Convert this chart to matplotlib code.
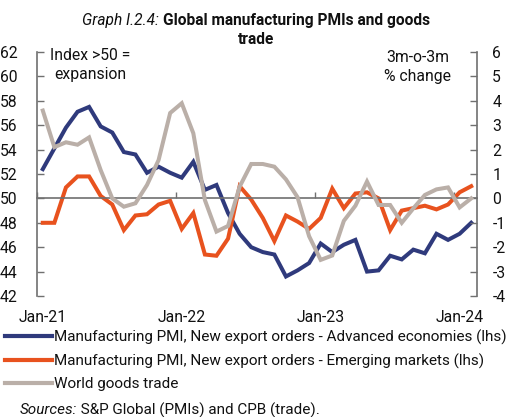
import matplotlib
matplotlib.use('Agg')
import matplotlib.pyplot as plt
import matplotlib.transforms as mtransforms
from matplotlib.lines import Line2D
import numpy as np

plt.rcParams['font.family'] = ['Roboto', 'DejaVu Sans']
plt.rcParams['axes.unicode_minus'] = False

# ---- data (Jan-21 .. Feb-24, monthly) ----
months = [f"{m}-{y}" for y in (21, 22, 23, 24) for m in
          ("Jan", "Feb", "Mar", "Apr", "May", "Jun", "Jul", "Aug", "Sep", "Oct", "Nov", "Dec")][:38]
adv = [52.4, 54.1, 55.8, 57.1, 57.5, 55.9, 55.4, 53.8, 53.6, 52.1,
       52.6, 52.1, 51.7, 53.0, 50.7, 51.1, 48.8, 47.1, 46.0, 45.6,
       45.4, 43.6, 44.1, 44.7, 46.3, 45.6, 46.2, 46.6, 44.0, 44.1,
       45.3, 45.0, 45.8, 45.5, 47.1, 46.6, 47.1, 48.0]
emg = [48.0, 48.0, 50.9, 51.8, 51.8, 50.2, 49.5, 47.4, 48.6, 48.7,
       49.5, 49.8, 47.5, 48.8, 45.4, 45.3, 46.7, 51.0, 49.9, 48.4,
       46.5, 48.6, 48.1, 47.5, 48.4, 50.8, 49.2, 50.4, 50.5, 50.0,
       47.4, 49.0, 49.2, 49.4, 49.1, 49.5, 50.5, 51.0]
trade = [3.6, 2.1, 2.3, 2.2, 2.5, 1.16, 0.0, -0.34, -0.2, 0.55,
         1.57, 3.5, 3.9, 2.67, -0.07, -1.36, -1.13, 0.48, 1.41, 1.41,
         1.3, 0.78, 0.05, -1.55, -2.52, -2.34, -0.92, -0.3, 0.69, -0.27,
         -0.27, -1.0, -0.41, 0.14, 0.37, 0.45, -0.37, 0.0]
xlabels = ["Jan-21", "Jan-22", "Jan-23", "Jan-24"]
left_ticks = list(range(42, 63, 2))
right_ticks = list(range(-4, 7))
names = ["Manufacturing PMI, New export orders - Advanced economies (lhs)",
         "Manufacturing PMI, New export orders - Emerging markets (lhs)",
         "World goods trade"]

BLUE = "#2F3A7C"
ORANGE = "#E8521E"
GREY = "#BAAFA8"
AX = "#707070"
TXT = "#111111"

fig = plt.figure(figsize=(5.08, 4.17), dpi=100)
ax = fig.add_axes([37/508, 1-296/417, 440/508, 244/417])
ax2 = ax.twinx()

x = np.arange(len(months))
ax.plot(x, adv, color=BLUE, lw=2.9, solid_joinstyle='miter')
ax.plot(x, emg, color=ORANGE, lw=2.9, solid_joinstyle='miter')
ax2.plot(x, trade, color=GREY, lw=2.9, solid_joinstyle='miter')

ax.set_xlim(-0.5, len(months) - 0.5)
ax.set_ylim(42, 62)
ax2.set_ylim(-4, 6)

for a in (ax, ax2):
    a.spines['top'].set_visible(False)
    a.patch.set_visible(False)
ax.spines['right'].set_visible(False)
ax2.spines['left'].set_visible(False)
ax2.spines['bottom'].set_visible(False)
ax.spines['left'].set_color(AX); ax.spines['left'].set_linewidth(1.2)
ax2.spines['right'].set_color(AX); ax2.spines['right'].set_linewidth(1.2)

# 50 / zero line as bottom spine
ax.spines['bottom'].set_position(('data', 50))
ax.spines['bottom'].set_color(AX)
ax.spines['bottom'].set_linewidth(1.2)
jan_idx = [months.index(l) for l in xlabels]
ax.set_xticks([i - 0.5 for i in jan_idx])
ax.set_xticklabels([])
ax.tick_params(axis='x', direction='in', length=4, width=1, color=AX)

ax.set_yticks(left_ticks)
ax.tick_params(axis='y', direction='in', length=5, width=1, color=AX,
               labelsize=11.3, pad=14, labelcolor=TXT)
ax2.set_yticks(right_ticks)
ax2.set_yticklabels([str(v) for v in right_ticks])
ax2.tick_params(axis='y', direction='in', length=5, width=1, color=AX,
                labelsize=11.3, pad=11, labelcolor=TXT)

trans = mtransforms.blended_transform_factory(ax.transData, fig.transFigure)
for l in xlabels:
    ax.text(months.index(l), 1 - 317/417, l, transform=trans, ha='center',
            va='center', fontsize=11.3, color=TXT)

# inner annotations
fig.text(90/508, 1-56/417, "Index >50 =", ha='center', va='center', fontsize=11.3, color=TXT)
fig.text(90/508, 1-75/417, "expansion", ha='center', va='center', fontsize=11.3, color=TXT)
fig.text(418/508, 1-58/417, "3m-o-3m", ha='center', va='center', fontsize=11.3, color=TXT)
fig.text(418/508, 1-77/417, "% change", ha='center', va='center', fontsize=11.3, color=TXT)

# title
r = fig.canvas.get_renderer()
t1 = fig.text(0, 1-20/417, "Graph I.2.4: ", style='italic', fontsize=11.2, va='center', color=TXT)
t2 = fig.text(0, 1-20/417, "Global manufacturing PMIs and goods", weight='bold', fontsize=11.2,
              va='center', color=TXT)
w1 = t1.get_window_extent(r).width
w2 = t2.get_window_extent(r).width
start = 256 - (w1 + w2) / 2
t1.set_x(start / 508)
t2.set_x((start + w1) / 508)
fig.text(256/508, 1-40/417, "trade", weight='bold', fontsize=11.2, ha='center', va='center', color=TXT)

# legend
handles = [Line2D([], [], color=c, lw=3) for c in (BLUE, ORANGE, GREY)]
fig.legend(handles, names, loc='upper left', bbox_to_anchor=(0/508, 1-325/417),
           frameon=False, fontsize=11, handlelength=3.1, handletextpad=0.15,
           labelspacing=0.55, borderaxespad=0, borderpad=0.3, labelcolor=TXT)

tsrc = fig.text(20/508, 1-410/417, "Sources:", style='italic', fontsize=11, va='center', color=TXT)
ts = fig.text(0, 1-410/417, " S&P Global (PMIs) and CPB (trade).", fontsize=11, va='center', color=TXT)
ts.set_x((20 + tsrc.get_window_extent(r).width) / 508)

fig.savefig("out.png", dpi=100)
